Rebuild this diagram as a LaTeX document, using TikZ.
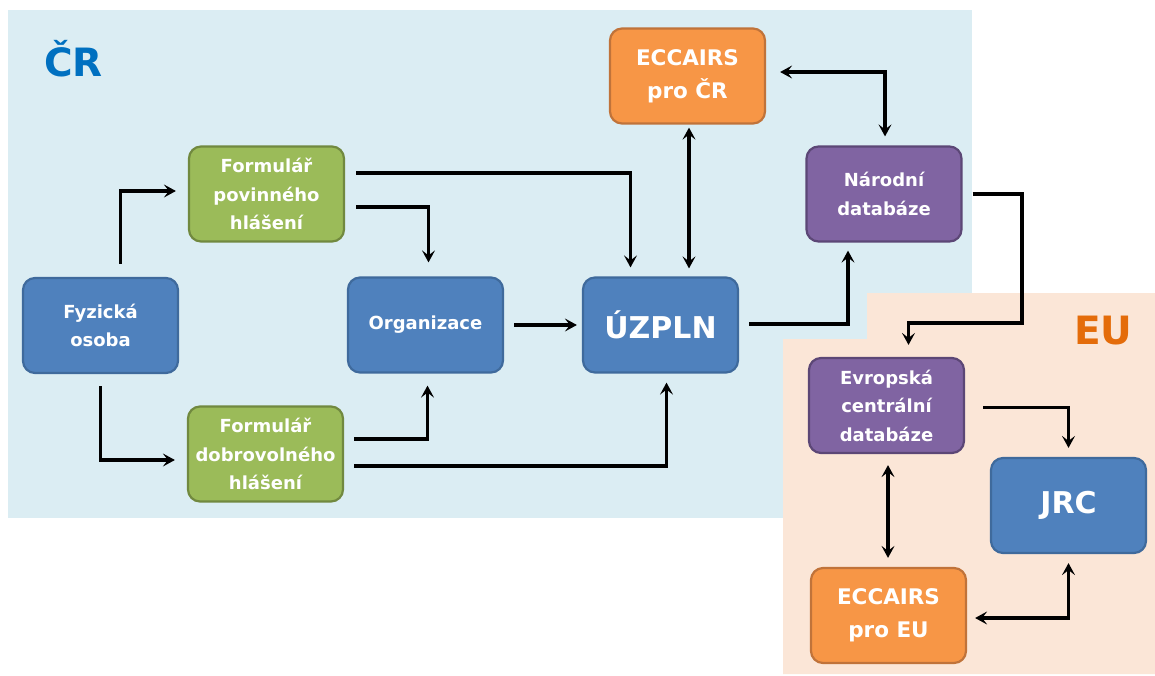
\documentclass[tikz,border=0pt]{standalone}
\usepackage{fontspec}
\setmainfont{DejaVu Sans}
\usetikzlibrary{arrows.meta,calc}
\definecolor{crbg}{HTML}{DBEDF3}
\definecolor{eubg}{HTML}{FBE6D7}
\definecolor{crtext}{HTML}{0070C0}
\definecolor{eutext}{HTML}{E46C0A}
\definecolor{bluef}{HTML}{4F81BD}\definecolor{blued}{HTML}{3F6A9C}
\definecolor{greenf}{HTML}{9BBB59}\definecolor{greend}{HTML}{71893F}
\definecolor{purplef}{HTML}{8064A2}\definecolor{purpled}{HTML}{5C4776}
\definecolor{orangef}{HTML}{F79646}\definecolor{oranged}{HTML}{C0733A}
\tikzset{
  box/.style={rounded corners=12pt, line width=2.2pt, text=white, align=center,
    inner sep=0pt, minimum width=155pt, minimum height=95pt,
    font=\fontsize{18}{28.5}\selectfont\bfseries},
  bluebox/.style={box, fill=bluef, draw=blued},
  greenbox/.style={box, fill=greenf, draw=greend},
  purplebox/.style={box, fill=purplef, draw=purpled},
  orangebox/.style={box, fill=orangef, draw=oranged, font=\fontsize{21.5}{33}\selectfont\bfseries},
  bigtext/.style={font=\fontsize{30}{34}\selectfont\bfseries},
  tip/.style={},
  arr/.style={line width=3.5pt, -{Stealth[length=12pt,width=13pt,inset=5pt]}},
  dbl/.style={line width=3.5pt, {Stealth[length=12pt,width=13pt,inset=5pt]}-{Stealth[length=12pt,width=13pt,inset=5pt]}},
  region/.style={font=\fontsize{39}{40}\selectfont\bfseries, anchor=base west, inner sep=0pt}
}
\begin{document}
\begin{tikzpicture}[x=1pt,y=-1pt]
\useasboundingbox (0,0) rectangle (1155,675);
% panels
\fill[crbg] (8,10) rectangle (972,518);
\fill[eubg] (867,293) -- (1155,293) -- (1155,674) -- (783,674) -- (783,339) -- (867,339) -- cycle;
\node[region, text=crtext] (cr) at (44,76) {ČR};
\node[region, text=eutext] (eu) at (1074,344) {EU};
% nodes
\node[bluebox] (fyz) at (100.5,325.5) {Fyzická\\osoba};
\node[greenbox] (pov) at (266.5,194) {Formulář\\povinného\\hlášení};
\node[greenbox] (dob) at (265.5,454) {Formulář\\dobrovolného\\hlášení};
\node[bluebox] (org) at (425.5,325) {Organizace};
\node[bluebox, bigtext] (uz) at (660.5,325) {ÚZPLN};
\node[orangebox] (eccr) at (687.5,76) {ECCAIRS\\pro ČR};
\node[purplebox] (nar) at (884,194) {Národní\\databáze};
\node[purplebox] (evr) at (886.5,405.5) {Evropská\\centrální\\databáze};
\node[bluebox, bigtext] (jrc) at (1068.5,505.5) {JRC};
\node[orangebox] (eceu) at (888.5,615.5) {ECCAIRS\\pro EU};
% connectors
\draw[arr] ([xshift=20pt,yshift=13pt]fyz.north) |- ([xshift=-12pt,yshift=3pt]pov.west);
\draw[arr] ([yshift=-12pt]fyz.south) |- ([xshift=-12pt,yshift=-6pt]dob.west);
\draw[arr] ([xshift=11pt,yshift=21pt]pov.east) -| ([xshift=-30pt,yshift=9pt]uz.north);
\draw[arr] ([xshift=11pt,yshift=-13pt]pov.east) -| ([xshift=3pt,yshift=14pt]org.north);
\draw[arr] ([xshift=10pt,yshift=15pt]dob.east) -| ([xshift=2pt,yshift=-12pt]org.south);
\draw[arr] ([xshift=10pt,yshift=-12pt]dob.east) -| ([xshift=6pt,yshift=-9pt]uz.south);
\draw[arr] ([xshift=10pt]org.east) -- ([xshift=-5pt]uz.west);
\draw[dbl] ([xshift=1.5pt,yshift=-3pt]eccr.south) -- ([xshift=28.5pt,yshift=8pt]uz.north);
\draw[dbl] ([xshift=14pt,yshift=4pt]eccr.east) -| ([xshift=1pt,yshift=9pt]nar.north);
\draw[arr] ([xshift=10pt,yshift=1pt]uz.east) -| ([xshift=-36pt,yshift=-8pt]nar.south);
\coordinate (k1) at (1022,323);
\draw[arr] ([xshift=10pt]nar.east) -| (k1) -| ([xshift=22pt,yshift=12pt]evr.north);
\draw[arr] ([xshift=18pt,yshift=-2pt]evr.east) -| ([yshift=9pt]jrc.north);
\draw[dbl] ([xshift=1.5pt,yshift=-11pt]evr.south) -- ([xshift=-0.5pt,yshift=9pt]eceu.north);
\draw[dbl] ([xshift=8pt,yshift=-2.5pt]eceu.east) -| ([yshift=-9pt]jrc.south);
\end{tikzpicture}
\end{document}
